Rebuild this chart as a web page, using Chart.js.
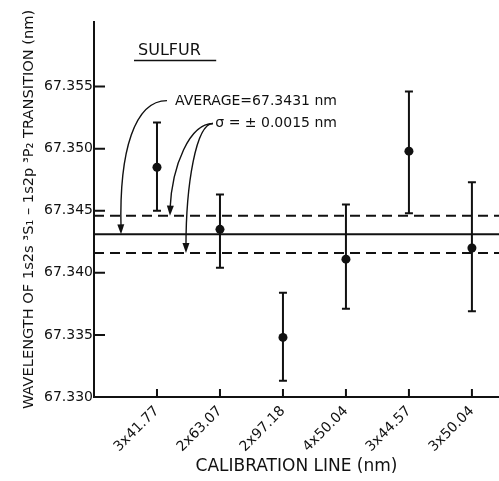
<!DOCTYPE html>
<html><head><meta charset="utf-8">
<script src="https://cdn.jsdelivr.net/npm/chart.js@4/dist/chart.umd.min.js"></script>
<style>html,body{margin:0;padding:0;background:#fff}#wrap{width:499px;height:481px}</style>
</head><body><div id="wrap"><canvas id="c" width="499" height="481"></canvas></div>
<script>
// ---- data ----
const categories = ['3x41.77', '2x63.07', '2x97.18', '4x50.04', '3x44.57', '3x50.04'];
const wavelengths = [67.3485, 67.3435, 67.3348, 67.3411, 67.3498, 67.3420];
const errHigh = [67.3521, 67.3463, 67.3384, 67.3455, 67.3546, 67.3473];
const errLow  = [67.3450, 67.3404, 67.3313, 67.3371, 67.3448, 67.3369];
const average = 67.3431;
const sigma = 0.0015;
const yTicks = [67.330, 67.335, 67.340, 67.345, 67.350, 67.355];
const yTickLabels = ['67.330', '67.335', '67.340', '67.345', '67.350', '67.355'];

// ---- layout / style ----
const X_MIN = -1, X_MAX = 5.43, Y_MIN = 67.330, Y_MAX = 67.3602;
const FONT = "'DejaVu Sans', sans-serif";
const INK = '#111';

// annotations in data coordinates
const notes = {
  title: {text: 'SULFUR', x: -0.30, y: 67.3579, ux0: -0.365, ux1: 0.94, uy: 67.35710},
  avgText: {text: 'AVERAGE=67.3431 nm', xr: 2.857, y: 67.35379},
  sigText: {text: 'σ = ± 0.0015 nm', xr: 2.857, y: 67.35202},
  avgArrow: [[0.159, 67.35387], [-0.349, 67.35387], [-0.603, 67.34992], [-0.571, average]],
  sigArrow1: [[0.889, 67.35202], [0.524, 67.35202], [0.238, 67.34871], [0.206, average + sigma]],
  sigArrow2: [[0.889, 67.35202], [0.619, 67.35202], [0.46, 67.3471], [0.46, average - sigma]]
};

const lineSeg = (v) => [{x: X_MIN, y: v}, {x: X_MAX, y: v}];

const extras = {
  id: 'extras',
  beforeDatasetsDraw(chart) {
    const {ctx, scales: {x, y}} = chart;
    ctx.save();
    ctx.strokeStyle = INK; ctx.lineWidth = 2;
    // error bars
    wavelengths.forEach((v, i) => {
      const px = x.getPixelForValue(i);
      const t = y.getPixelForValue(errHigh[i]);
      const b = y.getPixelForValue(errLow[i]);
      ctx.beginPath();
      ctx.moveTo(px, t); ctx.lineTo(px, b);
      ctx.moveTo(px - 4, t); ctx.lineTo(px + 4, t);
      ctx.moveTo(px - 4, b); ctx.lineTo(px + 4, b);
      ctx.stroke();
    });
    ctx.restore();
  },
  afterDraw(chart) {
    const {ctx, scales: {x, y}} = chart;
    ctx.save();
    ctx.strokeStyle = INK; ctx.fillStyle = INK; ctx.lineWidth = 2;
    // inside tick marks
    const left = x.left, bottom = y.bottom;
    ctx.beginPath();
    yTicks.forEach(v => { const py = y.getPixelForValue(v); ctx.moveTo(left, py); ctx.lineTo(left + 11, py); });
    categories.forEach((c, i) => { const px = x.getPixelForValue(i); ctx.moveTo(px, bottom); ctx.lineTo(px, bottom - 8); });
    ctx.stroke();
    const P = (p) => [x.getPixelForValue(p[0]), y.getPixelForValue(p[1])];
    // title
    ctx.font = '16px ' + FONT; ctx.textBaseline = 'middle'; ctx.textAlign = 'left';
    ctx.fillText(notes.title.text, x.getPixelForValue(notes.title.x), y.getPixelForValue(notes.title.y));
    ctx.lineWidth = 1.6;
    ctx.beginPath();
    ctx.moveTo(x.getPixelForValue(notes.title.ux0), y.getPixelForValue(notes.title.uy));
    ctx.lineTo(x.getPixelForValue(notes.title.ux1), y.getPixelForValue(notes.title.uy));
    ctx.stroke();
    // text
    ctx.font = '14px ' + FONT; ctx.textAlign = 'right';
    ctx.fillText(notes.avgText.text, x.getPixelForValue(notes.avgText.xr), y.getPixelForValue(notes.avgText.y));
    ctx.fillText(notes.sigText.text, x.getPixelForValue(notes.sigText.xr), y.getPixelForValue(notes.sigText.y));
    // arrows
    ctx.lineWidth = 1.4;
    [notes.avgArrow, notes.sigArrow1, notes.sigArrow2].forEach(a => {
      const [p0, c1, c2, p3] = a.map(P);
      ctx.beginPath();
      ctx.moveTo(p0[0], p0[1]);
      ctx.bezierCurveTo(c1[0], c1[1], c2[0], c2[1], p3[0], p3[1] - 6);
      ctx.stroke();
      const ang = Math.atan2(p3[1] - c2[1], p3[0] - c2[0]);
      const L = 10, W = 3.5;
      const bx = p3[0] - L * Math.cos(ang), by = p3[1] - L * Math.sin(ang);
      ctx.beginPath();
      ctx.moveTo(p3[0], p3[1]);
      ctx.lineTo(bx + W * Math.sin(ang), by - W * Math.cos(ang));
      ctx.lineTo(bx - W * Math.sin(ang), by + W * Math.cos(ang));
      ctx.closePath(); ctx.fill();
    });
    ctx.restore();
  }
};

new Chart(document.getElementById('c').getContext('2d'), {
  type: 'scatter',
  data: {
    datasets: [
      {label: 'Sulfur', data: categories.map((c, i) => ({x: i, y: wavelengths[i]})),
       pointRadius: 4.5, backgroundColor: INK, borderColor: INK, borderWidth: 0},
      {label: 'Average', type: 'line', data: lineSeg(average), borderColor: INK, borderWidth: 2, pointRadius: 0, fill: false},
      {label: '+σ', type: 'line', data: lineSeg(average + sigma), borderColor: INK, borderWidth: 2, borderDash: [10, 6], pointRadius: 0, fill: false},
      {label: '-σ', type: 'line', data: lineSeg(average - sigma), borderColor: INK, borderWidth: 2, borderDash: [10, 6], pointRadius: 0, fill: false}
    ]
  },
  options: {
    responsive: false, animation: false,
    layout: {autoPadding: false, padding: {top: 22, right: 0, left: 0, bottom: 0}},
    plugins: {legend: {display: false}, tooltip: {enabled: false}},
    scales: {
      x: {
        type: 'linear', min: X_MIN, max: X_MAX,
        afterFit(s) { s.height = 84; s.paddingLeft = 0; s.paddingRight = 0; },
        afterBuildTicks(s) { s.ticks = categories.map((c, i) => ({value: i})); },
        grid: {display: false, drawTicks: false},
        border: {display: true, color: INK, width: 2},
        ticks: {callback: (v) => categories[v], minRotation: 45, maxRotation: 45, padding: 6, color: INK, font: {family: FONT, size: 14}},
        title: {display: true, text: 'CALIBRATION LINE (nm)', color: INK, font: {family: FONT, size: 17}, padding: {top: 0, bottom: 4}}
      },
      y: {
        min: Y_MIN, max: Y_MAX,
        afterFit(s) { s.width = 94; s.paddingTop = 0; s.paddingBottom = 0; },
        afterBuildTicks(s) { s.ticks = yTicks.map(v => ({value: v})); },
        grid: {display: false, drawTicks: false},
        border: {display: true, color: INK, width: 2},
        ticks: {callback: (v, i) => yTickLabels[i], padding: 1, color: INK, font: {family: FONT, size: 14}},
        title: {display: true, text: 'WAVELENGTH OF 1s2s ³S₁ – 1s2p ³P₂ TRANSITION (nm)', color: INK, font: {family: FONT, size: 14.6}, padding: {top: 20, bottom: 0}}
      }
    }
  },
  plugins: [extras]
});
</script>
</body></html>
